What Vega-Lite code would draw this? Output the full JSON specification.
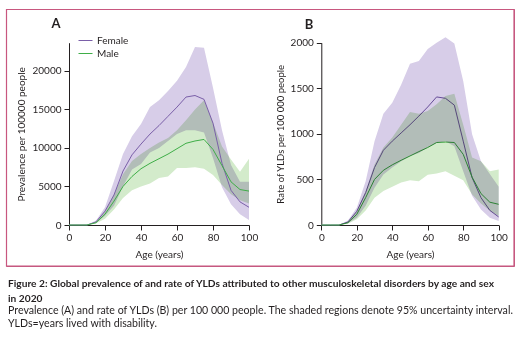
{
  "$schema": "https://vega.github.io/schema/vega-lite/v6.json",
  "width": 508,
  "height": 257,
  "padding": {"left": 5, "top": 8, "right": 8, "bottom": 2},
  "background": "white",
  "config": {
    "view": {"stroke": "#c25a82", "strokeWidth": 1},
    "font": "Lato",
    "axis": {
      "grid": false,
      "labelFont": "Lato",
      "titleFont": "Lato",
      "labelFontSize": 10,
      "titleFontSize": 10,
      "titleFontWeight": "normal",
      "labelColor": "#231f20",
      "titleColor": "#231f20",
      "domainColor": "#231f20",
      "tickColor": "#231f20",
      "tickSize": 5,
      "labelFlush": false
    }
  },
  "title": {
    "text": ["Figure 2: Global prevalence of and rate of YLDs attributed to other musculoskeletal disorders by age and sex", "in 2020"],
    "subtitle": ["Prevalence (A) and rate of YLDs (B) per 100 000 people. The shaded regions denote 95% uncertainty interval.", "YLDs=years lived with disability."],
    "orient": "bottom",
    "anchor": "start",
    "frame": "group",
    "dx": 2,
    "offset": 12,
    "font": "Lato",
    "fontSize": 10.2,
    "fontWeight": "bold",
    "lineHeight": 15,
    "color": "#231f20",
    "subtitleFont": "Lato",
    "subtitleFontSize": 10.6,
    "subtitleLineHeight": 13.5,
    "subtitleColor": "#231f20",
    "subtitlePadding": 2
  },
  "datasets": {
    "rows": [
      {"panel": "A", "sex": "Female", "age": 0, "mean": 0, "lower": 0, "upper": 0},
      {"panel": "A", "sex": "Female", "age": 5, "mean": 0, "lower": 0, "upper": 0},
      {"panel": "A", "sex": "Female", "age": 10, "mean": 0, "lower": 0, "upper": 0},
      {"panel": "A", "sex": "Female", "age": 15, "mean": 400, "lower": 250, "upper": 600},
      {"panel": "A", "sex": "Female", "age": 20, "mean": 1800, "lower": 1200, "upper": 2300},
      {"panel": "A", "sex": "Female", "age": 25, "mean": 3900, "lower": 2500, "upper": 5700},
      {"panel": "A", "sex": "Female", "age": 30, "mean": 7000, "lower": 5000, "upper": 9200},
      {"panel": "A", "sex": "Female", "age": 35, "mean": 9100, "lower": 7200, "upper": 11500},
      {"panel": "A", "sex": "Female", "age": 40, "mean": 10500, "lower": 7900, "upper": 13100},
      {"panel": "A", "sex": "Female", "age": 45, "mean": 11800, "lower": 9400, "upper": 15300},
      {"panel": "A", "sex": "Female", "age": 50, "mean": 12900, "lower": 10000, "upper": 16200},
      {"panel": "A", "sex": "Female", "age": 55, "mean": 14100, "lower": 10900, "upper": 17400},
      {"panel": "A", "sex": "Female", "age": 60, "mean": 15300, "lower": 11800, "upper": 18700},
      {"panel": "A", "sex": "Female", "age": 65, "mean": 16600, "lower": 12300, "upper": 20500},
      {"panel": "A", "sex": "Female", "age": 70, "mean": 16800, "lower": 12300, "upper": 23100},
      {"panel": "A", "sex": "Female", "age": 75, "mean": 16300, "lower": 12000, "upper": 23000},
      {"panel": "A", "sex": "Female", "age": 80, "mean": 13200, "lower": 8700, "upper": 17800},
      {"panel": "A", "sex": "Female", "age": 85, "mean": 8000, "lower": 4900, "upper": 12300},
      {"panel": "A", "sex": "Female", "age": 90, "mean": 4500, "lower": 2700, "upper": 7800},
      {"panel": "A", "sex": "Female", "age": 95, "mean": 3000, "lower": 1400, "upper": 5600},
      {"panel": "A", "sex": "Female", "age": 100, "mean": 2300, "lower": 650, "upper": 5600},
      {"panel": "A", "sex": "Male", "age": 0, "mean": 0, "lower": 0, "upper": 0},
      {"panel": "A", "sex": "Male", "age": 5, "mean": 0, "lower": 0, "upper": 0},
      {"panel": "A", "sex": "Male", "age": 10, "mean": 0, "lower": 0, "upper": 0},
      {"panel": "A", "sex": "Male", "age": 15, "mean": 300, "lower": 200, "upper": 450},
      {"panel": "A", "sex": "Male", "age": 20, "mean": 1400, "lower": 800, "upper": 1800},
      {"panel": "A", "sex": "Male", "age": 25, "mean": 3100, "lower": 2000, "upper": 4000},
      {"panel": "A", "sex": "Male", "age": 30, "mean": 5000, "lower": 3500, "upper": 6600},
      {"panel": "A", "sex": "Male", "age": 35, "mean": 6300, "lower": 4500, "upper": 8300},
      {"panel": "A", "sex": "Male", "age": 40, "mean": 7300, "lower": 5000, "upper": 9200},
      {"panel": "A", "sex": "Male", "age": 45, "mean": 8000, "lower": 5400, "upper": 10000},
      {"panel": "A", "sex": "Male", "age": 50, "mean": 8600, "lower": 6100, "upper": 10700},
      {"panel": "A", "sex": "Male", "age": 55, "mean": 9200, "lower": 6300, "upper": 11300},
      {"panel": "A", "sex": "Male", "age": 60, "mean": 9900, "lower": 7400, "upper": 12300},
      {"panel": "A", "sex": "Male", "age": 65, "mean": 10600, "lower": 7400, "upper": 13600},
      {"panel": "A", "sex": "Male", "age": 70, "mean": 10900, "lower": 7500, "upper": 15000},
      {"panel": "A", "sex": "Male", "age": 75, "mean": 11100, "lower": 7300, "upper": 16200},
      {"panel": "A", "sex": "Male", "age": 80, "mean": 9800, "lower": 6500, "upper": 13300},
      {"panel": "A", "sex": "Male", "age": 85, "mean": 7700, "lower": 5200, "upper": 10200},
      {"panel": "A", "sex": "Male", "age": 90, "mean": 5600, "lower": 4000, "upper": 8500},
      {"panel": "A", "sex": "Male", "age": 95, "mean": 4600, "lower": 3200, "upper": 6900},
      {"panel": "A", "sex": "Male", "age": 100, "mean": 4400, "lower": 2800, "upper": 8600},
      {"panel": "B", "sex": "Female", "age": 0, "mean": 0, "lower": 0, "upper": 0},
      {"panel": "B", "sex": "Female", "age": 5, "mean": 0, "lower": 0, "upper": 0},
      {"panel": "B", "sex": "Female", "age": 10, "mean": 0, "lower": 0, "upper": 0},
      {"panel": "B", "sex": "Female", "age": 15, "mean": 33, "lower": 20, "upper": 50},
      {"panel": "B", "sex": "Female", "age": 20, "mean": 150, "lower": 80, "upper": 190},
      {"panel": "B", "sex": "Female", "age": 25, "mean": 355, "lower": 210, "upper": 480},
      {"panel": "B", "sex": "Female", "age": 30, "mean": 630, "lower": 410, "upper": 920},
      {"panel": "B", "sex": "Female", "age": 35, "mean": 820, "lower": 555, "upper": 1220},
      {"panel": "B", "sex": "Female", "age": 40, "mean": 920, "lower": 630, "upper": 1340},
      {"panel": "B", "sex": "Female", "age": 45, "mean": 1010, "lower": 700, "upper": 1540},
      {"panel": "B", "sex": "Female", "age": 50, "mean": 1100, "lower": 757, "upper": 1770},
      {"panel": "B", "sex": "Female", "age": 55, "mean": 1195, "lower": 790, "upper": 1800},
      {"panel": "B", "sex": "Female", "age": 60, "mean": 1295, "lower": 850, "upper": 1930},
      {"panel": "B", "sex": "Female", "age": 65, "mean": 1405, "lower": 900, "upper": 2000},
      {"panel": "B", "sex": "Female", "age": 70, "mean": 1390, "lower": 920, "upper": 2060},
      {"panel": "B", "sex": "Female", "age": 75, "mean": 1315, "lower": 865, "upper": 1990},
      {"panel": "B", "sex": "Female", "age": 80, "mean": 920, "lower": 590, "upper": 1580},
      {"panel": "B", "sex": "Female", "age": 85, "mean": 520, "lower": 320, "upper": 995},
      {"panel": "B", "sex": "Female", "age": 90, "mean": 300, "lower": 170, "upper": 700},
      {"panel": "B", "sex": "Female", "age": 95, "mean": 160, "lower": 80, "upper": 560},
      {"panel": "B", "sex": "Female", "age": 100, "mean": 88, "lower": 44, "upper": 420},
      {"panel": "B", "sex": "Male", "age": 0, "mean": 0, "lower": 0, "upper": 0},
      {"panel": "B", "sex": "Male", "age": 5, "mean": 0, "lower": 0, "upper": 0},
      {"panel": "B", "sex": "Male", "age": 10, "mean": 0, "lower": 0, "upper": 0},
      {"panel": "B", "sex": "Male", "age": 15, "mean": 25, "lower": 15, "upper": 35},
      {"panel": "B", "sex": "Male", "age": 20, "mean": 117, "lower": 62, "upper": 150},
      {"panel": "B", "sex": "Male", "age": 25, "mean": 300, "lower": 160, "upper": 370},
      {"panel": "B", "sex": "Male", "age": 30, "mean": 500, "lower": 300, "upper": 665},
      {"panel": "B", "sex": "Male", "age": 35, "mean": 600, "lower": 373, "upper": 850},
      {"panel": "B", "sex": "Male", "age": 40, "mean": 660, "lower": 420, "upper": 960},
      {"panel": "B", "sex": "Male", "age": 45, "mean": 710, "lower": 465, "upper": 1100},
      {"panel": "B", "sex": "Male", "age": 50, "mean": 757, "lower": 490, "upper": 1240},
      {"panel": "B", "sex": "Male", "age": 55, "mean": 805, "lower": 480, "upper": 1220},
      {"panel": "B", "sex": "Male", "age": 60, "mean": 850, "lower": 550, "upper": 1250},
      {"panel": "B", "sex": "Male", "age": 65, "mean": 905, "lower": 565, "upper": 1325},
      {"panel": "B", "sex": "Male", "age": 70, "mean": 910, "lower": 590, "upper": 1415},
      {"panel": "B", "sex": "Male", "age": 75, "mean": 905, "lower": 540, "upper": 1440},
      {"panel": "B", "sex": "Male", "age": 80, "mean": 775, "lower": 490, "upper": 1100},
      {"panel": "B", "sex": "Male", "age": 85, "mean": 525, "lower": 335, "upper": 740},
      {"panel": "B", "sex": "Male", "age": 90, "mean": 345, "lower": 235, "upper": 700},
      {"panel": "B", "sex": "Male", "age": 95, "mean": 250, "lower": 155, "upper": 590},
      {"panel": "B", "sex": "Male", "age": 100, "mean": 227, "lower": 100, "upper": 610}
    ]
  },
  "layer": [
    {
      "data": {"values": [{}]},
      "mark": {"type": "rect", "filled": false, "color": "#c8577f", "stroke": "#c8577f", "strokeWidth": 1.2, "strokeOpacity": 1, "opacity": 1},
      "encoding": {
        "x": {"value": 0.5},
        "x2": {"value": "width"},
        "y": {"value": 0.5},
        "y2": {"value": "height"}
      }
    },
    {
      "layer": [
        {
          "data": {"name": "rows"},
          "transform": [{"filter": "datum.panel === 'A'"}],
          "mark": {"type": "area", "blend": "multiply"},
          "encoding": {
            "x": {"field": "age", "type": "quantitative", "scale": {"domain": [0, 100], "range": [63, 243], "nice": false, "zero": false},
                  "axis": {"orient": "bottom", "offset": -41, "values": [0, 20, 40, 60, 80, 100], "title": "Age (years)", "labelPadding": 2, "titlePadding": 7}},
            "y": {"field": "lower", "type": "quantitative", "scale": {"domain": [0, 23650], "range": [216, 33.7], "nice": false},
                  "axis": {"orient": "left", "offset": -63, "values": [0, 5000, 10000, 15000, 20000], "format": "d", "title": "Prevalence per 100000 people", "labelPadding": 3, "titlePadding": 5}},
            "y2": {"field": "upper"},
            "fill": {"field": "sex", "type": "nominal", "scale": {"domain": ["Male", "Female"], "range": ["#d3ebcb", "#d7cde8"]}, "legend": null}
          }
        },
        {
          "data": {"name": "rows"},
          "transform": [{"filter": "datum.panel === 'A'"}],
          "mark": {"type": "line", "strokeWidth": 1},
          "encoding": {
            "x": {"field": "age", "type": "quantitative"},
            "y": {"field": "mean", "type": "quantitative", "title": "Prevalence per 100000 people"},
            "stroke": {"field": "sex", "type": "nominal", "scale": {"domain": ["Female", "Male"], "range": ["#7a5fa8", "#3fae48"]},
                       "legend": {"orient": "none", "legendX": 72, "legendY": 24, "title": null, "symbolType": "stroke", "symbolSize": 196, "symbolStrokeWidth": 1, "labelFont": "Lato", "labelFontSize": 10, "labelColor": "#231f20", "labelOffset": 4, "rowPadding": 0}}
          }
        },
        {
          "data": {"values": [{}]},
          "mark": {"type": "text", "fontSize": 13, "fontWeight": "bold", "font": "Lato", "color": "#231f20", "align": "center", "baseline": "middle"},
          "encoding": {
            "x": {"datum": -7.2, "type": "quantitative"},
            "y": {"datum": 26076, "type": "quantitative"},
            "text": {"value": "A"}
          }
        }
      ]
    },
    {
      "layer": [
        {
          "data": {"name": "rows"},
          "transform": [{"filter": "datum.panel === 'B'"}],
          "mark": {"type": "line", "strokeWidth": 1},
          "encoding": {
            "x": {"field": "age", "type": "quantitative", "scale": {"domain": [0, 100], "range": [315.3, 492.7], "nice": false, "zero": false},
                  "axis": {"orient": "bottom", "offset": -41, "values": [0, 20, 40, 60, 80, 100], "title": "Age (years)", "labelPadding": 2, "titlePadding": 7}},
            "y": {"field": "mean", "type": "quantitative", "scale": {"domain": [0, 2000], "range": [216, 33.7], "nice": false},
                  "axis": {"orient": "left", "offset": -315.3, "values": [0, 500, 1000, 1500, 2000], "format": "d", "title": "Rate of YLDs per 100 000 people", "titleFontSize": 9.5, "labelPadding": 3, "titlePadding": 5}},
            "stroke": {"field": "sex", "type": "nominal"}
          }
        },
        {
          "data": {"name": "rows"},
          "transform": [{"filter": "datum.panel === 'B'"}],
          "mark": {"type": "area", "blend": "multiply"},
          "encoding": {
            "x": {"field": "age", "type": "quantitative"},
            "y": {"field": "lower", "type": "quantitative", "title": "Rate of YLDs per 100 000 people"},
            "y2": {"field": "upper"},
            "fill": {"field": "sex", "type": "nominal", "legend": null}
          }
        },
        {
          "data": {"values": [{}]},
          "mark": {"type": "text", "fontSize": 13, "fontWeight": "bold", "font": "Lato", "color": "#231f20", "align": "center", "baseline": "middle"},
          "encoding": {
            "x": {"datum": -6.9, "type": "quantitative"},
            "y": {"datum": 2194, "type": "quantitative"},
            "text": {"value": "B"}
          }
        }
      ]
    }
  ],
  "resolve": {
    "scale": {"x": "independent", "y": "independent"},
    "axis": {"x": "independent", "y": "independent"}
  }
}
